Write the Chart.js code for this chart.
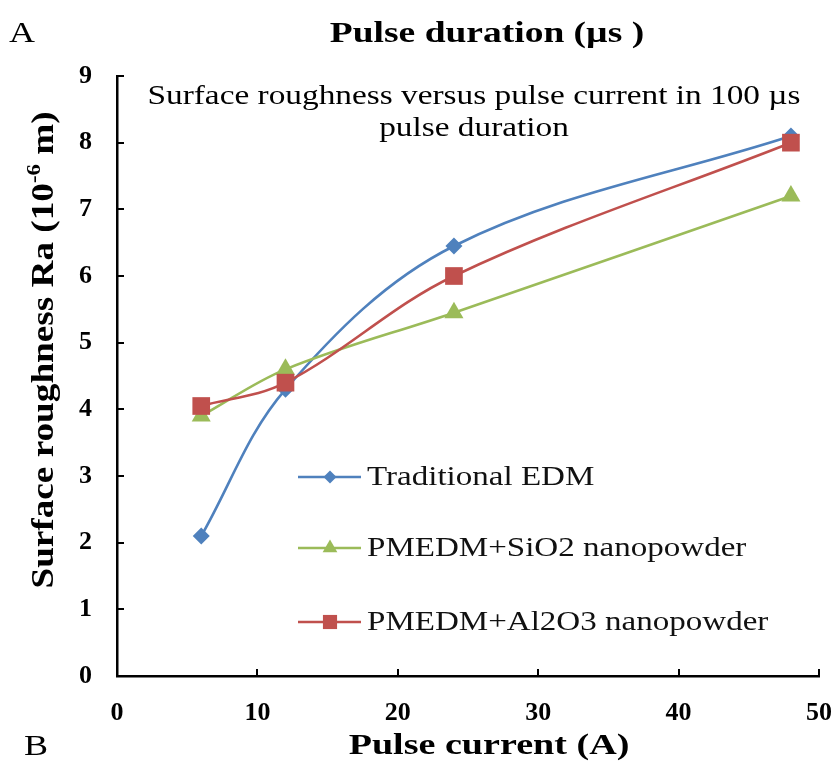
<!DOCTYPE html>
<html><head><meta charset="utf-8">
<script src="https://cdn.jsdelivr.net/npm/chart.js@4.4.1/dist/chart.umd.min.js"></script>
<style>html,body{margin:0;padding:0;background:#fff}#wrap{width:835px;height:763px}</style>
</head><body><div id="wrap"><canvas id="c" width="835" height="763"></canvas></div>
<script>
// ---- data ----
const pulseCurrent = [6, 12, 24, 48];
const traditionalEDM = [2.1, 4.3, 6.45, 8.1];
const sio2Powder = [3.9, 4.6, 5.45, 7.2];
const al2o3Powder = [4.05, 4.4, 6.0, 8.0];
const seriesNames = ['Traditional EDM', 'PMEDM+SiO2 nanopowder', 'PMEDM+Al2O3 nanopowder'];
const xTickValues = [0, 10, 20, 30, 40, 50];
const yTickValues = [0, 1, 2, 3, 4, 5, 6, 7, 8, 9];
const chartTitle = 'Pulse duration (µs )';
const innerTitle = ['Surface roughness versus pulse current in 100 µs', 'pulse duration'];
const xTitle = 'Pulse current (A)';
const yTitleParts = ['Surface roughness Ra (10', '-6', ' m)'];
const panelLabels = ['A', 'B'];

const SERIF = '"Liberation Serif", "Times New Roman", serif';
const colors = ['#4F81BD', '#9BBB59', '#C0504D'];
const styles = ['rectRot', 'triangle', 'rect'];
const radii = [8.5, 11, 12.5];
const legendRadii = [6.5, 8.5, 10];
const seriesValues = [traditionalEDM, sio2Powder, al2o3Powder];

const datasets = seriesValues.map((vals, i) => ({
  label: seriesNames[i],
  data: pulseCurrent.map((x, j) => ({x: x, y: vals[j]})),
  borderColor: colors[i],
  backgroundColor: colors[i],
  pointBackgroundColor: colors[i],
  pointBorderColor: colors[i],
  pointStyle: styles[i],
  pointRadius: radii[i],
  pointBorderWidth: 0,
  borderWidth: 2.6,
  tension: 0.35,
  order: 2 - i
}));

function stretchText(ctx, text, x, y, align, sx) {
  ctx.save();
  ctx.translate(x, y);
  ctx.scale(sx, 1);
  ctx.textAlign = align;
  ctx.fillText(text, 0, 0);
  ctx.restore();
}

const extras = {
  id: 'extras',
  beforeDatasetsDraw(chart) {
    const ctx = chart.ctx, a = chart.chartArea;
    const xs = chart.scales.x, ys = chart.scales.y;
    ctx.save();
    ctx.strokeStyle = '#000';
    ctx.lineWidth = 2;
    yTickValues.forEach(v => {
      const p = Math.round(ys.getPixelForValue(v));
      ctx.beginPath(); ctx.moveTo(a.left, p); ctx.lineTo(a.left + 7, p); ctx.stroke();
    });
    xTickValues.forEach(v => {
      const p = Math.round(xs.getPixelForValue(v));
      ctx.beginPath(); ctx.moveTo(p, a.bottom); ctx.lineTo(p, a.bottom - 7); ctx.stroke();
    });
    ctx.restore();
  },
  afterDraw(chart) {
    const ctx = chart.ctx;
    ctx.save();
    ctx.fillStyle = '#000';
    ctx.textBaseline = 'middle';
    // panel labels
    ctx.font = '30px ' + SERIF;
    stretchText(ctx, panelLabels[0], 9, 34, 'left', 1.2);
    stretchText(ctx, panelLabels[1], 24, 747, 'left', 1.2);
    // top title
    ctx.font = 'bold 30px ' + SERIF;
    stretchText(ctx, chartTitle, 487, 34, 'center', 1.25);
    // x title
    stretchText(ctx, xTitle, 489, 746, 'center', 1.27);
    // inner title
    ctx.font = '28px ' + SERIF;
    stretchText(ctx, innerTitle[0], 474, 97, 'center', 1.19);
    stretchText(ctx, innerTitle[1], 474, 129, 'center', 1.19);
    // y title rotated with superscript
    ctx.save();
    ctx.translate(45, 350);
    ctx.rotate(-Math.PI / 2);
    ctx.scale(1.2, 1);
    const mainFont = 'bold 31px ' + SERIF, supFont = 'bold 19px ' + SERIF;
    ctx.font = mainFont; const w0 = ctx.measureText(yTitleParts[0]).width;
    const w2 = ctx.measureText(yTitleParts[2]).width;
    ctx.font = supFont; const w1 = ctx.measureText(yTitleParts[1]).width;
    let x0 = -(w0 + w1 + w2) / 2;
    ctx.textAlign = 'left';
    ctx.font = mainFont; ctx.fillText(yTitleParts[0], x0, 0);
    ctx.font = supFont; ctx.fillText(yTitleParts[1], x0 + w0, -10);
    ctx.font = mainFont; ctx.fillText(yTitleParts[2], x0 + w0 + w1, 0);
    ctx.restore();
    // legend
    const rowsY = [477, 548, 622];
    chart.data.datasets.forEach((ds, i) => {
      const y = rowsY[i];
      ctx.strokeStyle = ds.borderColor;
      ctx.lineWidth = 2.6;
      ctx.beginPath(); ctx.moveTo(298, y); ctx.lineTo(361, y); ctx.stroke();
      ctx.fillStyle = ds.backgroundColor;
      Chart.helpers.drawPoint(ctx, {pointStyle: ds.pointStyle, radius: legendRadii[i], rotation: 0, borderWidth: 0}, 330, y);
      ctx.fillStyle = '#111';
      ctx.font = '28px ' + SERIF;
      stretchText(ctx, ds.label, 367, y + 1, 'left', 1.18);
    });
    ctx.restore();
  }
};

new Chart(document.getElementById('c'), {
  type: 'line',
  data: {datasets: datasets},
  options: {
    responsive: false,
    animation: false,
    layout: {padding: {top: 76, left: 0, right: 16, bottom: 0}},
    plugins: {legend: {display: false}, title: {display: false}, tooltip: {enabled: false}},
    scales: {
      x: {
        type: 'linear', min: 0, max: 50,
        afterBuildTicks: s => { s.ticks = xTickValues.map(v => ({value: v})); },
        afterFit: s => { s.height = 87; s.paddingLeft = 0; s.paddingRight = 0; },
        grid: {drawOnChartArea: false, drawTicks: false},
        border: {display: true, color: '#000', width: 2.5},
        ticks: {color: '#000', font: {family: SERIF, size: 26, weight: 'bold'}, padding: 22, maxRotation: 0}
      },
      y: {
        type: 'linear', min: 0, max: 9,
        afterBuildTicks: s => { s.ticks = yTickValues.map(v => ({value: v})); },
        afterFit: s => { s.width = 117; s.paddingTop = 0; s.paddingBottom = 0; },
        grid: {drawOnChartArea: false, drawTicks: false},
        border: {display: true, color: '#000', width: 2.5},
        ticks: {color: '#000', font: {family: SERIF, size: 26, weight: 'bold'}, padding: 25}
      }
    }
  },
  plugins: [extras]
});
</script></body></html>
